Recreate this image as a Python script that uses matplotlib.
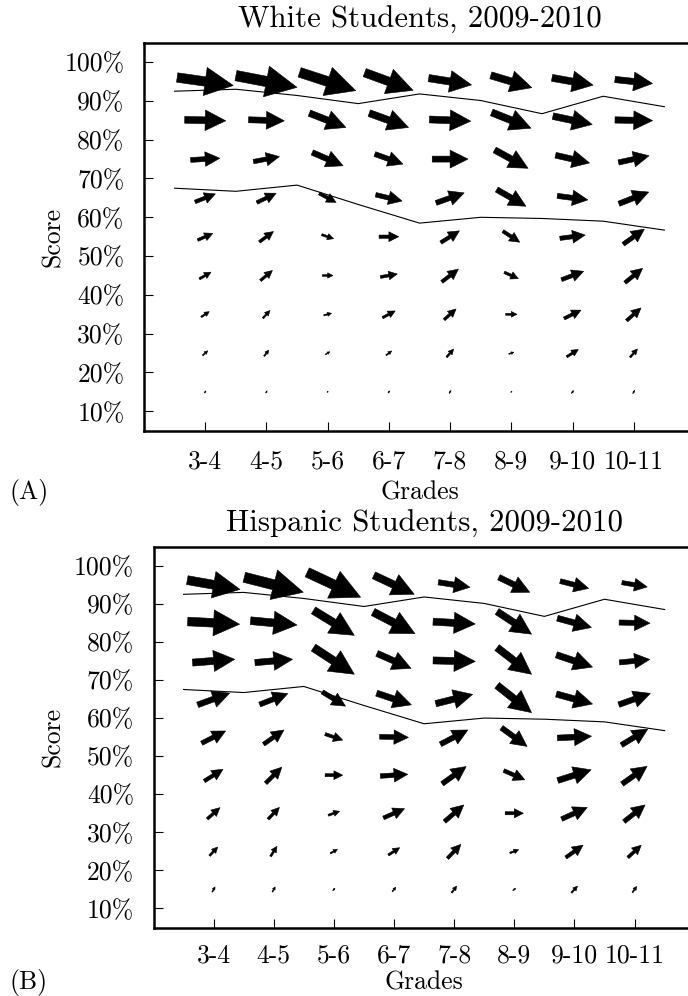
import matplotlib
matplotlib.use("Agg")
import matplotlib.pyplot as plt
import numpy as np

plt.rcParams["font.family"] = "cmr10"
plt.rcParams["mathtext.fontset"] = "cm"
plt.rcParams["axes.formatter.use_mathtext"] = True
plt.rcParams["font.size"] = 18.5

# grade transitions (x) and score rows (y)
grades = ["3-4", "4-5", "5-6", "6-7", "7-8", "8-9", "9-10", "10-11"]
scores = [15, 25, 35, 45, 55, 65, 75, 85, 95]
score_ticks = [10, 20, 30, 40, 50, 60, 70, 80, 90, 100]

# cut-score lines, one point per grade (3..11)
line_x = [0.5, 1.5, 2.5, 3.5, 4.5, 5.5, 6.5, 7.5, 8.5]
upper_cut = [92.5, 93.0, 91.4, 89.3, 91.8, 90.1, 86.7, 91.2, 88.5]
lower_cut = [67.5, 66.7, 68.3, 63.3, 58.5, 60.0, 59.7, 59.0, 56.7]

# arrow components, rows = scores 15..95, cols = grade transitions
white_u = [
    [0.022, 0.022, 0.022, 0.026, 0.029, 0.022, 0.034, 0.029],
    [0.081, 0.074, 0.069, 0.091, 0.115, 0.081, 0.189, 0.120],
    [0.132, 0.115, 0.125, 0.206, 0.194, 0.184, 0.275, 0.235],
    [0.189, 0.194, 0.172, 0.275, 0.270, 0.229, 0.361, 0.287],
    [0.246, 0.229, 0.194, 0.321, 0.304, 0.275, 0.412, 0.344],
    [0.332, 0.314, 0.275, 0.430, 0.459, 0.476, 0.498, 0.486],
    [0.476, 0.424, 0.503, 0.459, 0.584, 0.545, 0.555, 0.498],
    [0.670, 0.584, 0.596, 0.641, 0.675, 0.641, 0.641, 0.613],
    [0.916, 0.997, 0.916, 0.790, 0.699, 0.670, 0.670, 0.613],
]
white_v = [
    [0.52, 0.52, 0.08, 0.52, 0.70, 0.08, 0.70, 0.77],
    [1.21, 1.55, 0.70, 1.11, 2.06, 0.44, 1.88, 2.14],
    [1.37, 1.99, 0.52, 1.73, 2.76, 0.00, 2.14, 3.27],
    [1.73, 2.58, 0.00, 0.77, 3.27, -1.62, 2.14, 3.69],
    [1.73, 2.66, -1.03, 0.00, 3.02, -2.84, 0.85, 3.87],
    [2.06, 2.40, -2.32, -1.62, 2.58, -4.31, -1.03, 3.02],
    [0.44, 1.29, -3.43, -2.58, 0.00, -4.72, -1.99, 1.73],
    [-0.26, -0.26, -3.69, -3.69, -0.44, -4.05, -2.14, -0.18],
    [-2.06, -3.02, -4.72, -4.56, -1.73, -3.17, -1.88, -1.03],
]
hisp_u = [
    [0.047, 0.047, 0.035, 0.058, 0.082, 0.047, 0.100, 0.070],
    [0.135, 0.105, 0.117, 0.187, 0.222, 0.145, 0.285, 0.222],
    [0.210, 0.187, 0.187, 0.350, 0.320, 0.303, 0.426, 0.350],
    [0.310, 0.268, 0.292, 0.455, 0.398, 0.350, 0.555, 0.415],
    [0.398, 0.338, 0.292, 0.478, 0.455, 0.426, 0.566, 0.438],
    [0.531, 0.468, 0.385, 0.578, 0.613, 0.573, 0.601, 0.525],
    [0.701, 0.625, 0.678, 0.566, 0.701, 0.573, 0.601, 0.503],
    [0.863, 0.771, 0.678, 0.695, 0.701, 0.573, 0.566, 0.513],
    [0.876, 0.981, 0.888, 0.671, 0.525, 0.513, 0.473, 0.420],
]
hisp_v = [
    [1.31, 1.31, 0.60, 1.13, 1.75, 0.52, 1.75, 1.57],
    [2.28, 2.62, 1.05, 1.91, 3.66, 0.86, 3.22, 3.22],
    [2.96, 3.06, 1.05, 2.43, 4.37, 0.00, 3.06, 4.37],
    [3.06, 4.19, 0.00, 0.45, 4.53, -2.43, 2.80, 4.63],
    [3.22, 3.74, -1.57, -0.18, 3.74, -4.90, 0.45, 4.19],
    [3.06, 2.88, -3.74, -3.06, 2.43, -7.15, -2.62, 2.96],
    [0.86, 0.86, -6.99, -3.93, -0.26, -6.99, -3.22, 0.79],
    [-0.71, -1.13, -6.54, -5.68, -0.60, -5.94, -2.43, -0.18],
    [-2.43, -3.93, -6.54, -4.97, -1.31, -3.93, -1.91, -1.13],
]

W, H = 688, 996
fig = plt.figure(figsize=(W / 100, H / 100), dpi=100)


def add_px_axes(left, top, right, bottom):
    return fig.add_axes([left / W, 1 - bottom / H, (right - left) / W, (bottom - top) / H])


def draw_panel(ax, u, v, title, letter, xpad, label_base_px):
    X, Y = np.meshgrid(np.arange(1, len(grades) + 1), scores)
    # width is huge on purpose: every arrow then takes the scaled "short" shape,
    # so shaft thickness grows with arrow length
    ax.quiver(X, Y, np.array(u), np.array(v), angles="xy", scale_units="xy", scale=1,
              pivot="middle", units="width", width=0.5, headwidth=3, headlength=3,
              headaxislength=3, minshaft=2, minlength=0, color="black",
              edgecolor="black", linewidth=0.4, zorder=2)
    ax.plot(line_x, upper_cut, color="black", lw=0.8, zorder=3)
    ax.plot(line_x, lower_cut, color="black", lw=0.8, zorder=3)

    ax.set_xlim(0, 9)
    ax.set_ylim(5, 105)
    ax.set_xticks(range(1, len(grades) + 1))
    ax.set_xticklabels(grades)
    ax.set_yticks(score_ticks)
    ax.set_yticklabels([f"{s}%" for s in score_ticks])
    ax.tick_params(axis="y", direction="in", length=6.5, width=0.8, pad=14)
    ax.tick_params(axis="x", direction="in", length=6.5, width=0.8, pad=xpad)
    ax.spines["right"].set_visible(False)
    for s in ["top", "left", "bottom"]:
        ax.spines[s].set_linewidth(1.8)

    ax.set_title(title, pad=10.5)
    ax.set_ylabel("Score")
    bb = ax.get_position()
    axw = bb.width * W
    axh = bb.height * H
    ax.yaxis.set_label_coords((65 - bb.x0 * W) / axw, 0.5)
    ax.set_xlabel("Grades", va="baseline")
    ax.xaxis.set_label_coords(0.5, -label_base_px / axh)
    base_y = bb.y0 - label_base_px / H
    fig.text(9 / W, base_y, letter, va="baseline", ha="left")


ax_a = add_px_axes(144, 42.7, 695, 430.7)
draw_panel(ax_a, white_u, white_v, "White Students, 2009-2010", "(A)", 13.5, 68.5)

ax_b = add_px_axes(153.5, 546.7, 694.7, 927.5)
draw_panel(ax_b, hisp_u, hisp_v, "Hispanic Students, 2009-2010", "(B)", 11.5, 61.5)

fig.savefig("out.png", dpi=100)
